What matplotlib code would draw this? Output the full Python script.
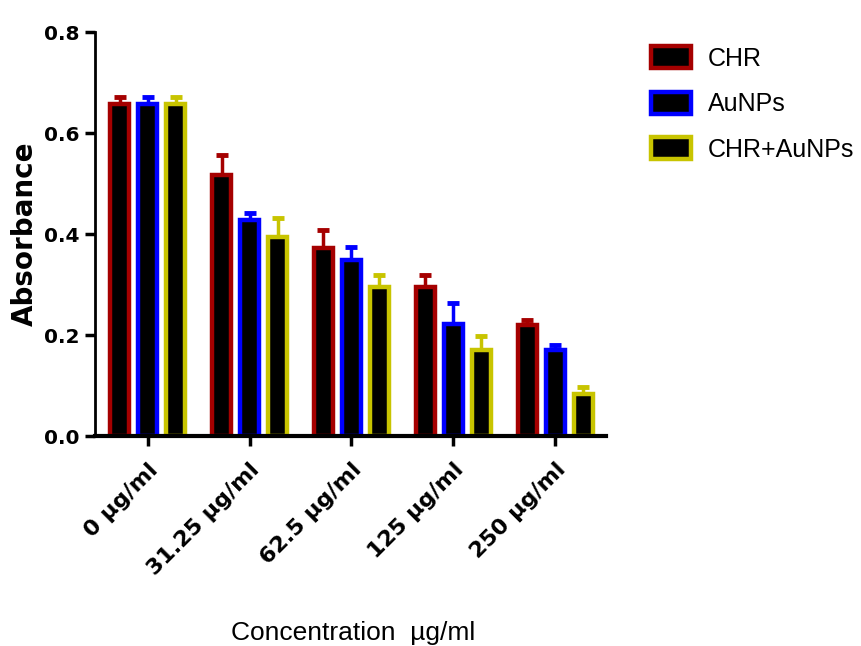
import matplotlib.pyplot as plt
import numpy as np

# data
groups = ['0 µg/ml', '31.25 µg/ml', '62.5 µg/ml', '125 µg/ml', '250 µg/ml']
series = ['CHR', 'AuNPs', 'CHR+AuNPs']
chr_mean = [0.658, 0.517, 0.372, 0.295, 0.221]
chr_err = [0.013, 0.040, 0.036, 0.024, 0.009]
au_mean = [0.658, 0.428, 0.349, 0.222, 0.171]
au_err = [0.013, 0.013, 0.025, 0.041, 0.010]
mix_mean = [0.658, 0.394, 0.295, 0.171, 0.084]
mix_err = [0.013, 0.039, 0.024, 0.028, 0.014]

colors = ['#a50000', '#0000ff', '#c8c400']
means = [chr_mean, au_mean, mix_mean]
errs = [chr_err, au_err, mix_err]

fig = plt.figure(figsize=(8.61, 6.46), dpi=100)
ax = fig.add_axes([0.110, 0.325, 0.594, 0.625])

x = np.arange(len(groups))
width = 0.19
step = 0.275

handles = []
for i in range(3):
    pos = x + (i - 1) * step
    b = ax.bar(pos, means[i], width, color='black', edgecolor=colors[i],
               linewidth=3.2, label=series[i], zorder=2)
    ax.errorbar(pos, means[i], yerr=[np.zeros(len(groups)), errs[i]], fmt='none',
                ecolor=colors[i], elinewidth=2.5, capsize=4.5, capthick=3.5, zorder=1)
    handles.append(b)

ax.set_xlim(-0.52, 4.5)
ax.set_ylim(0, 0.8)
ax.set_yticks([0.0, 0.2, 0.4, 0.6, 0.8])
ax.set_yticklabels(['0.0', '0.2', '0.4', '0.6', '0.8'])
ax.set_xticks(x)
ax.set_xticklabels(groups, rotation=45, ha='right', rotation_mode='anchor')

for lab in ax.get_yticklabels():
    lab.set_fontweight('bold')
    lab.set_fontsize(14.5)
for lab in ax.get_xticklabels():
    lab.set_fontweight('bold')
    lab.set_fontsize(16)

ax.spines['top'].set_visible(False)
ax.spines['right'].set_visible(False)
ax.spines['left'].set_linewidth(2)
ax.spines['bottom'].set_linewidth(3)
ax.tick_params(axis='both', width=2.5, length=7, direction='out')
ax.tick_params(axis='y', pad=4)
ax.tick_params(axis='x', pad=10)

ax.set_ylabel('Absorbance', fontsize=20, fontweight='bold', labelpad=4)
fig.text(0.41, 0.002, 'Concentration  µg/ml', fontsize=19, family='Liberation Sans',
         ha='center', va='bottom')

fig.legend(handles=handles, labels=series, loc='upper left', bbox_to_anchor=(0.741, 0.948),
           frameon=False, handlelength=1.6, handleheight=1.0, borderpad=0,
           labelspacing=0.83, handletextpad=0.7, prop={'family': 'Liberation Sans', 'size': 18})

fig.savefig('out.png', dpi=100)
